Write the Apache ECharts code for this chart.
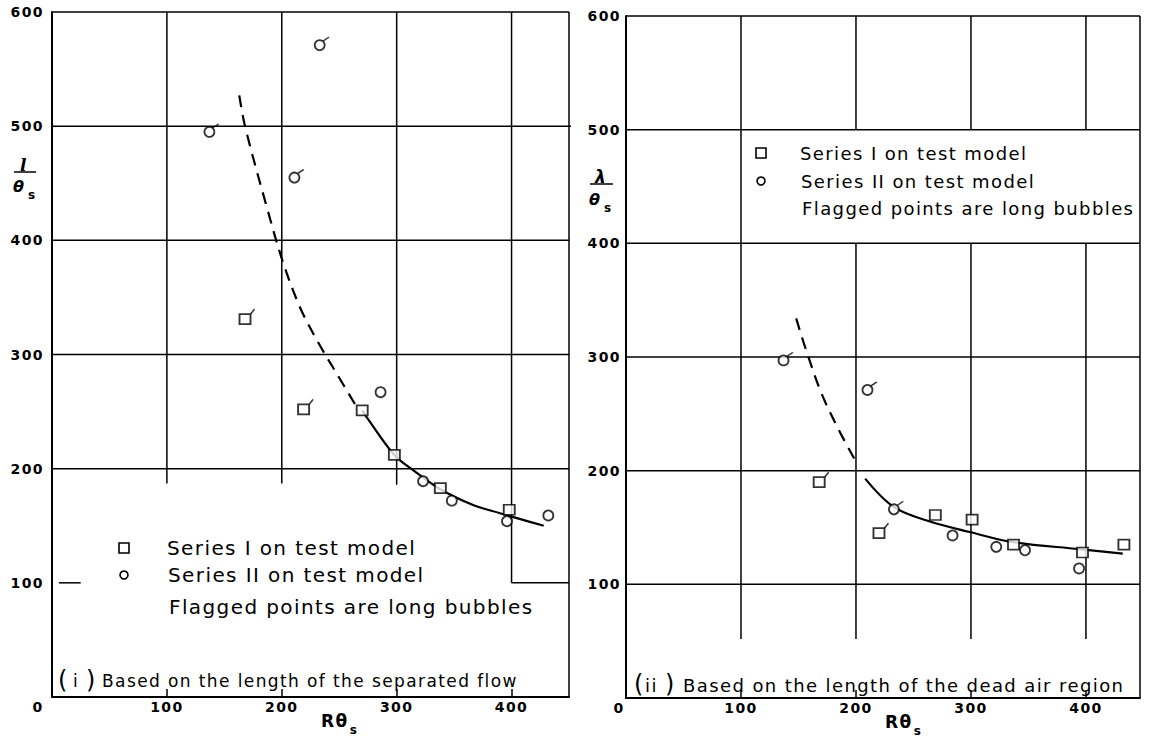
<!DOCTYPE html>
<html><head><meta charset="utf-8">
<script src="https://cdn.jsdelivr.net/npm/echarts@6/dist/echarts.min.js"></script>
<style>html,body{margin:0;padding:0;background:#fff}#c{width:1150px;height:739px}#c svg text{letter-spacing:1.4px}</style>
</head><body><div id="c"></div>
<script>
// ---------- data ----------
// [Re_theta_s, value, flagged(1 = long bubble)]
const leftSeriesI  = [[168,331,1],[219,252,1],[270,251,0],[298,212,0],[338,183,0],[398,164,0]];
const leftSeriesII = [[233,571,1],[137,495,1],[211,455,1],[286,267,0],[323,189,0],[348,172,0],[396,154,0],[432,159,0]];
const leftDashed   = [[163,527],[168,500],[187,429],[201,381],[216,341],[232,310],[248,283],[264,256]];
const leftSolid    = [[270,251],[274,245],[298,212],[314,199],[338,182],[367,168],[390,161],[407,156],[428,150]];

const rightSeriesI  = [[168,190,1],[220,145,1],[269,161,0],[301,157,0],[337,135,0],[397,128,0],[433,135,0]];
const rightSeriesII = [[137,297,1],[210,271,1],[233,166,1],[284,143,0],[322,133,0],[347,130,0],[394,114,0]];
const rightDashed   = [[148,334],[156,308],[170,268],[185,236],[201,206]];
const rightSolid    = [[208,193],[233,168],[265,155],[299,146],[337,137],[394,131],[432,127]];

// grid line segments as drawn in the original (axis units)
// horizontal: [y, x1, x2]; vertical: [x, y1, y2]
const leftGridH  = [[600,0,450],[500,0,454],[400,0,450],[300,0,450],[200,0,450],[100,6,25],[100,400,450]];
const leftGridV  = [[100,187,600],[200,187,600],[300,186,600],[400,100,600],[450,0,600]];
const rightGridH = [[600,0,447],[500,0,447],[400,0,447],[300,0,447],[200,0,447],[100,0,447]];
const rightGridV = [[100,52,600],[200,500,600],[200,52,400],[300,500,600],[300,52,400],[400,500,600],[400,52,400],[447,0,600]];

const xMaxLeft = 450, xMaxRight = 447, yMax = 600, tickStep = 100;

const legendTexts = ['Series I on test model', 'Series II on test model', 'Flagged points are long bubbles'];
const captionLeft = 'Based on the length of the separated flow';
const captionRight = 'Based on the length of the dead air region';

// ---------- chart ----------
const chart = echarts.init(document.getElementById('c'), null, {renderer: 'svg'});
const FONT = '"DejaVu Sans", sans-serif';

function xAxisCfg(gi, max, zeroPad) {
  return {
    type: 'value', gridIndex: gi, min: 0, max: max, interval: tickStep,
    axisLine: {show: true, onZero: false, lineStyle: {color: '#000', width: 2}},
    axisTick: {show: true, inside: true, length: 8, lineStyle: {color: '#000', width: 1.5}},
    splitLine: {show: false},
    axisLabel: {
      color: '#000', fontSize: 14, fontWeight: 'bold', fontFamily: FONT, margin: 3, showMaxLabel: false,
      formatter: v => v === 0 ? '{z|0}' : String(v),
      rich: {z: {fontSize: 14, fontWeight: 'bold', fontFamily: FONT, color: '#000', padding: [0, zeroPad, 0, 0]}}
    }
  };
}
function yAxisCfg(gi, margin) {
  return {
    type: 'value', gridIndex: gi, min: 0, max: yMax, interval: tickStep,
    axisLine: {show: true, onZero: false, lineStyle: {color: '#000', width: 2}},
    axisTick: {show: false},
    splitLine: {show: false},
    axisLabel: {color: '#000', fontSize: 14, fontWeight: 'bold', fontFamily: FONT, margin: margin, showMinLabel: false}
  };
}

const series = [];
function addSegs(gi, H, V) {
  H.forEach(s => series.push({type: 'line', xAxisIndex: gi, yAxisIndex: gi, data: [[s[1], s[0]], [s[2], s[0]]],
    symbol: 'none', silent: true, clip: false, z: 1, lineStyle: {color: '#000', width: 1.5}}));
  V.forEach(s => series.push({type: 'line', xAxisIndex: gi, yAxisIndex: gi, data: [[s[0], s[1]], [s[0], s[2]]],
    symbol: 'none', silent: true, clip: false, z: 1, lineStyle: {color: '#000', width: 1.5}}));
}
addSegs(0, leftGridH, leftGridV);
addSegs(1, rightGridH, rightGridV);

function addCurve(gi, data, dashed) {
  series.push({type: 'line', xAxisIndex: gi, yAxisIndex: gi, data: data, smooth: 0.35, symbol: 'none', silent: true, z: 3,
    lineStyle: {color: '#000', width: 2.2, type: dashed ? [12, 8] : 'solid'}});
}
addCurve(0, leftDashed, true); addCurve(0, leftSolid, false);
addCurve(1, rightDashed, true); addCurve(1, rightSolid, false);

const markStyle = {color: '#fff', borderColor: '#000', borderWidth: 1.8};
const flagStyle = {color: 'rgba(0,0,0,0)', borderColor: '#000', borderWidth: 1.5};
function addMarks(gi, arr, isSquare, name) {
  series.push({type: 'scatter', name: name, xAxisIndex: gi, yAxisIndex: gi, data: arr.map(d => [d[0], d[1]]),
    symbol: isSquare ? 'rect' : 'circle', symbolSize: isSquare ? [11, 10] : 10, itemStyle: markStyle, z: 5, silent: true});
  series.push({type: 'scatter', xAxisIndex: gi, yAxisIndex: gi, data: arr.filter(d => d[2]).map(d => [d[0], d[1]]),
    symbol: isSquare ? 'path://M0,5 L4,0' : 'path://M0,4 L6,0',
    symbolSize: isSquare ? [4, 5] : [6, 4],
    symbolOffset: isSquare ? [7.5, -7.5] : [6.3, -6],
    itemStyle: flagStyle, z: 6, silent: true});
}
addMarks(0, leftSeriesI, true, legendTexts[0]);
addMarks(0, leftSeriesII, false, legendTexts[1]);
addMarks(1, rightSeriesI, true, legendTexts[0]);
addMarks(1, rightSeriesII, false, legendTexts[1]);

function txt(text, x, y, size, opts) {
  return {type: 'text', x: x, y: y, z: 10, silent: true,
    style: Object.assign({text: text, fill: '#000', fontSize: size, fontFamily: FONT, align: 'left', verticalAlign: 'middle'}, opts || {})};
}
// main symbol followed by a lowered subscript "s", as one rich text
function subText(main, x, yTop, size, mainOpts) {
  return {type: 'text', x: x, y: yTop, z: 10, silent: true,
    style: {text: '{m|' + main + '}{s|s}', align: 'left', verticalAlign: 'top',
      rich: {
        m: Object.assign({fontSize: size, lineHeight: size, fontFamily: FONT, fontWeight: 'bold', fill: '#000', verticalAlign: 'top'}, mainOpts || {}),
        s: {fontSize: 12, lineHeight: 12, fontFamily: FONT, fontWeight: 'bold', fill: '#000', verticalAlign: 'top', padding: [size - 5, 0, 0, 4]}
      }}};
}
function legendGroup(sx, tx, ys, size) {
  return [
    {type: 'rect', shape: {x: sx - 5, y: ys[0] - 5, width: 10, height: 10}, style: {fill: '#fff', stroke: '#000', lineWidth: 1.6}, z: 10, silent: true},
    {type: 'circle', shape: {cx: sx, cy: ys[1], r: 4}, style: {fill: '#fff', stroke: '#000', lineWidth: 1.6}, z: 10, silent: true},
    txt(legendTexts[0], tx, ys[0], size),
    txt(legendTexts[1], tx + 1, ys[1], size),
    txt(legendTexts[2], tx + 2, ys[2], size)
  ];
}
function fraction(numer, cx, numY, barY, x1, x2, denTop, numFont) {
  return [
    txt(numer, cx, numY, 17, {align: 'center', fontFamily: numFont, fontStyle: 'italic', fontWeight: 'bold'}),
    {type: 'line', shape: {x1: x1, y1: barY, x2: x2, y2: barY}, style: {stroke: '#000', lineWidth: 1.5}, z: 10, silent: true},
    subText('θ', x1 - 1, denTop, 16, {fontStyle: 'italic'})
  ];
}

const graphic = [].concat(
  legendGroup(124, 167, [548, 575, 607], 20),
  legendGroup(761, 800, [153, 181, 208], 18),
  [
    txt('(', 58, 680, 24), txt('i', 73, 681, 17), txt(')', 86, 680, 24), txt(captionLeft, 102, 681, 17),
    txt('(', 634, 684, 24), txt('ii', 645, 685, 18), txt(')', 665, 684, 24), txt(captionRight, 683, 685, 18),
    subText('Rθ', 321, 712, 17),
    subText('Rθ', 885, 713, 17)
  ],
  fraction('l', 24, 165, 172, 14, 36, 178, '"DejaVu Serif", serif'),
  fraction('λ', 601, 177, 184, 590, 613, 191, FONT)
);

chart.setOption({
  animation: false,
  backgroundColor: '#fff',
  grid: [
    {left: 52, top: 12, width: 517, height: 685, containLabel: false},
    {left: 626, top: 16, width: 514, height: 682, containLabel: false}
  ],
  xAxis: [xAxisCfg(0, xMaxLeft, 28), xAxisCfg(1, xMaxRight, 14)],
  yAxis: [yAxisCfg(0, 8), yAxisCfg(1, 5)],
  series: series,
  graphic: graphic
});
</script></body></html>
